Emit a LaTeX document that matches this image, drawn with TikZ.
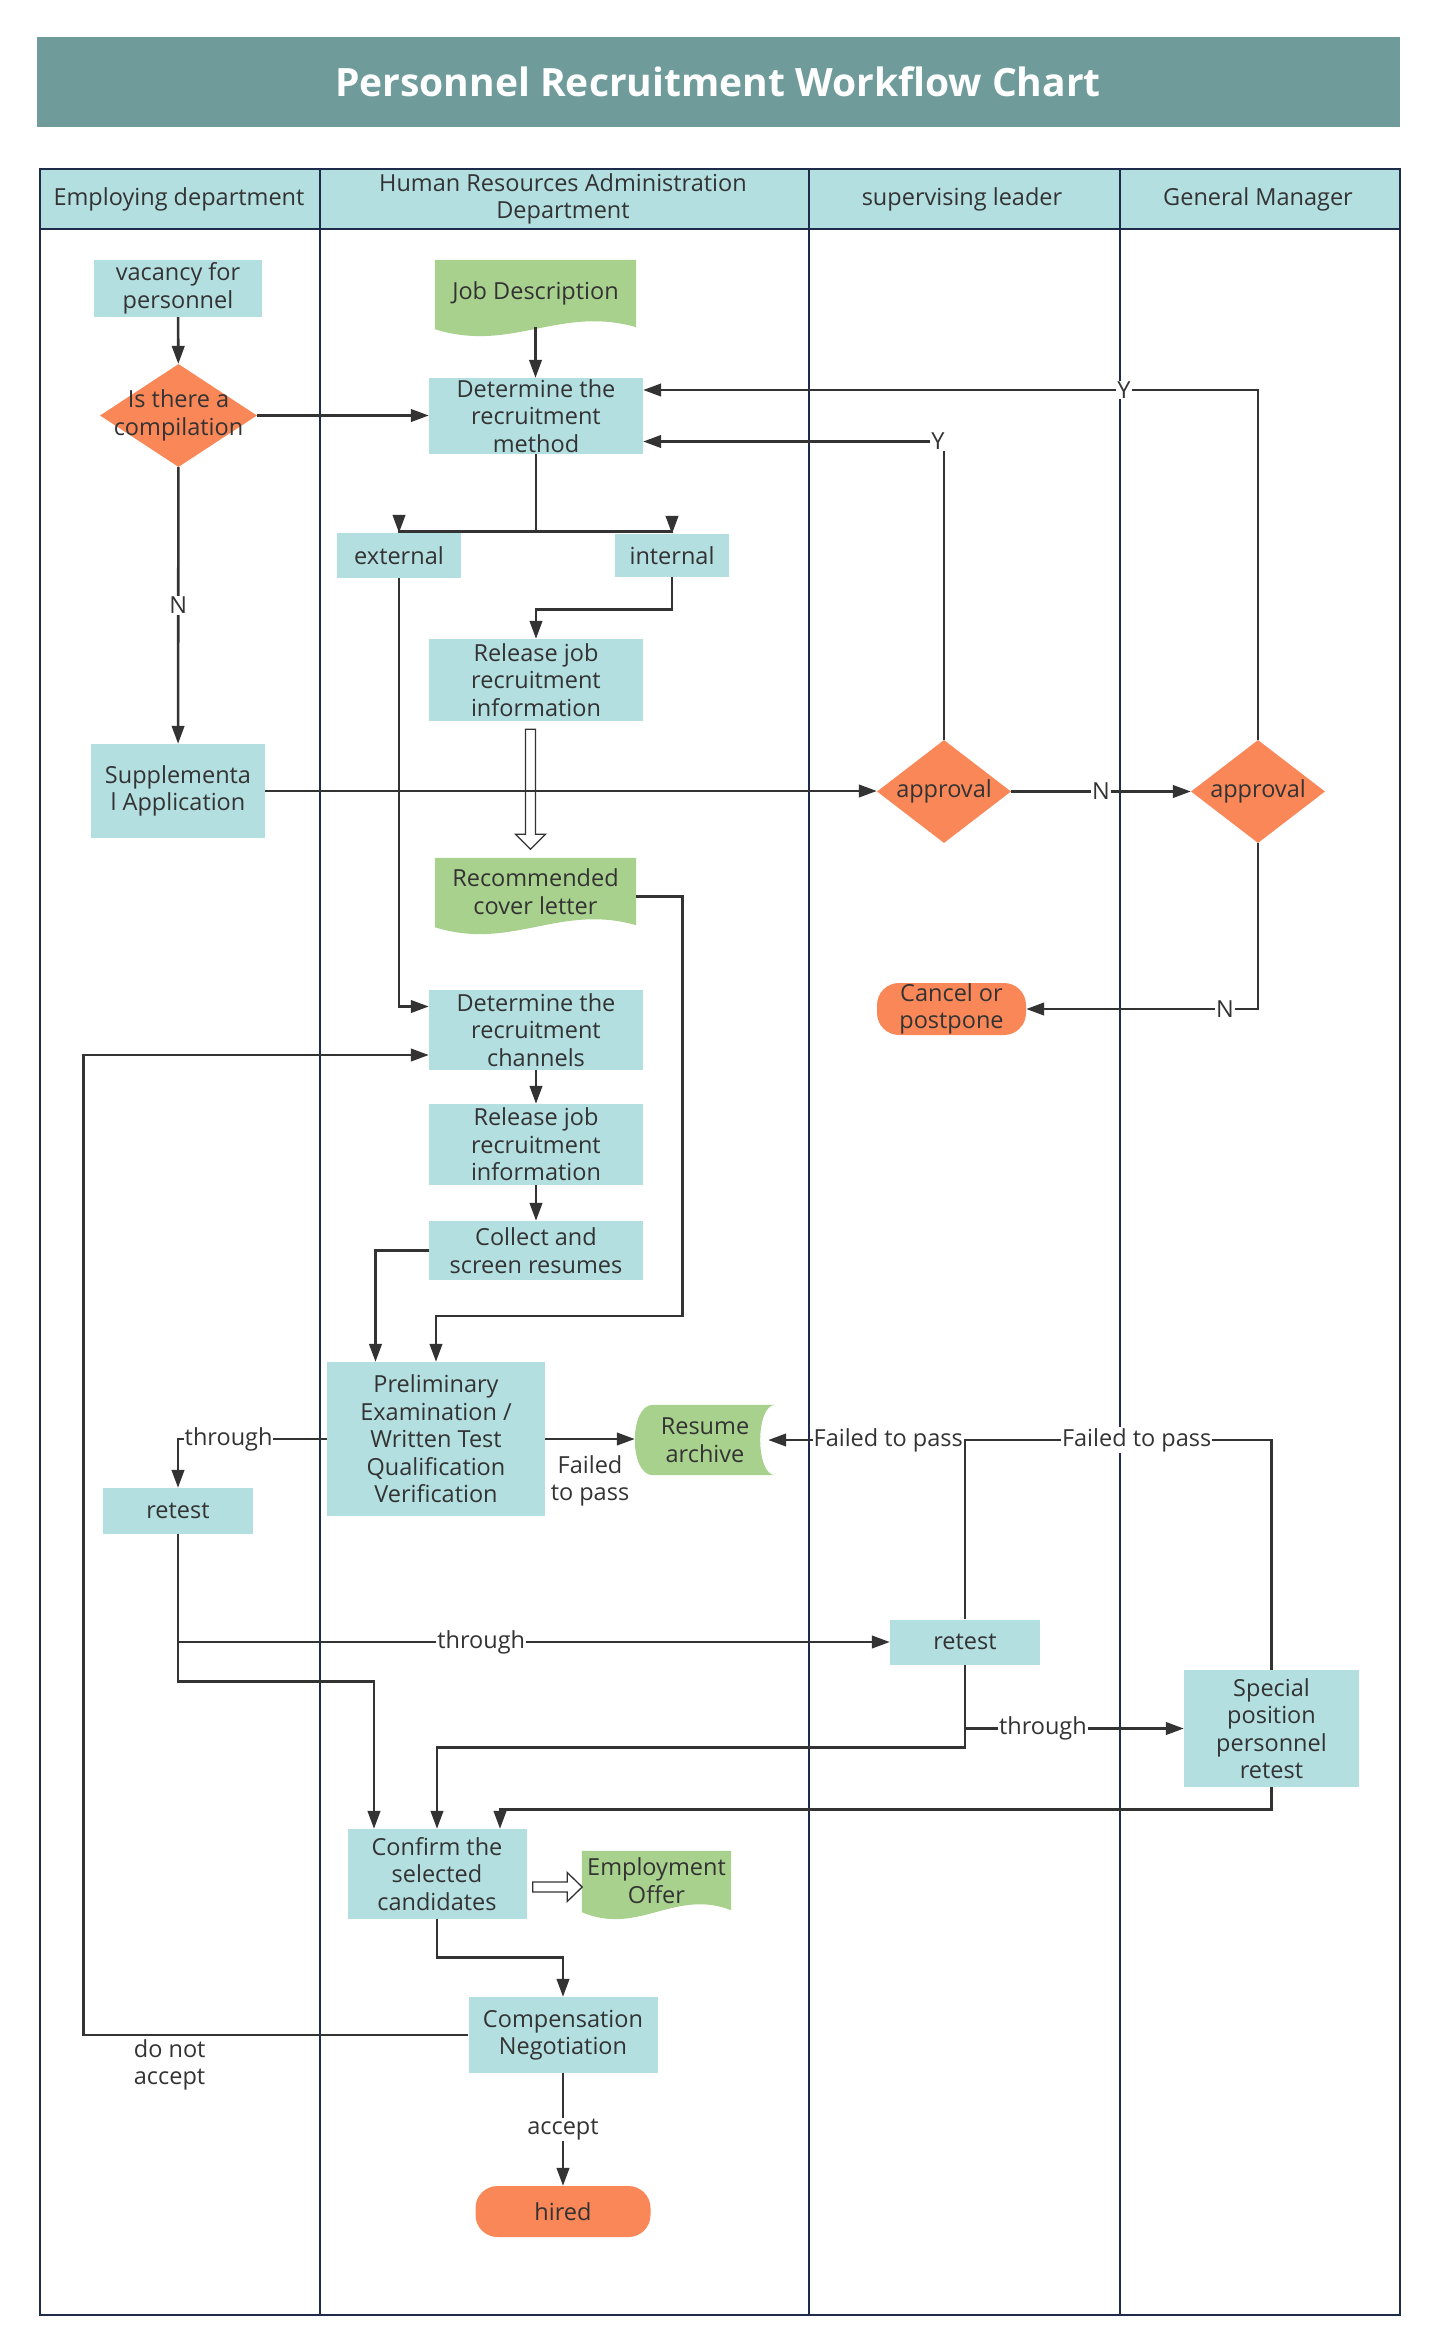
\documentclass[tikz,border=0pt]{standalone}
\usepackage{fontspec}
\setmainfont{Open Sans}
\usetikzlibrary{positioning, shapes.geometric, arrows.meta, calc, backgrounds}
\definecolor{ink}{HTML}{333333}
\definecolor{laneline}{HTML}{1E2B4A}
\definecolor{titlebar}{HTML}{6F9C9B}
\definecolor{cyanbox}{HTML}{B4DFE0}
\definecolor{orangebox}{HTML}{F98758}
\definecolor{greendoc}{HTML}{A9D18E}

% document shape: flat top, wavy bottom
\newcommand{\docwave}[1]{%
  \fill[greendoc] (#1.north west) -- (#1.north east) -- (#1.south east)
    .. controls ($(#1.south west)!0.62!(#1.south east)+(0,-22)$)
            and ($(#1.south west)!0.38!(#1.south east)+(0,26)$)
    .. ($(#1.south west)+(0,2)$) -- cycle;}
% stored data shape
\newcommand{\storedfill}[1]{%
  \fill[greendoc] ([xshift=18pt]#1.north west) -- (#1.north east)
    .. controls ([xshift=-20pt]#1.north east) and ([xshift=-20pt]#1.south east) .. (#1.south east)
    -- ([xshift=18pt]#1.south west)
    .. controls ([xshift=-6pt]#1.south west) and ([xshift=-6pt]#1.north west) .. ([xshift=18pt]#1.north west) -- cycle;}

\begin{document}
\begin{tikzpicture}[x=1pt, y=-1pt, font=\fontsize{23.5}{27.5}\selectfont, text=ink,
  box/.style={rectangle, fill=cyanbox, align=center, inner xsep=3pt, inner ysep=0pt},
  decision/.style={diamond, fill=orangebox, inner sep=0pt, minimum width=134pt, minimum height=103pt},
  terminal/.style={rectangle, rounded corners=22pt, fill=orangebox, align=center, inner ysep=0pt},
  docnode/.style={rectangle, align=center, inner ysep=0pt, minimum width=201pt},
  lbl/.style={fill=white, inner sep=1pt},
  arr/.style={line width=2.6pt, draw=ink, -{Triangle[length=18pt, width=12.5pt]}},
  conn/.style={line width=2.6pt, draw=ink},
  hollow/.style={draw=ink, line width=1.3pt, fill=white}
]
  \useasboundingbox (0,0) rectangle (1435,2350);

  % title and lanes
  \fill[titlebar] (37,37) rectangle (1400,127);
  \node[font=\fontsize{39}{44}\selectfont\bfseries, text=white] (title) at (718,82) {Personnel Recruitment Workflow Chart};
  \fill[cyanbox] (40,169) rectangle (1400,229);
  \draw[laneline, line width=1.2pt] (40,169) rectangle (1400,2315);
  \draw[laneline, line width=2pt] (40,169) -- (1400,169) (40,229) -- (1400,229);
  \foreach \x/\w in {320/2.4, 809/1.2, 1120/1.2}
    \draw[laneline, line width=\w pt] (\x,169) -- (\x,2315);
  \node (hemp) at (179,199) {Employing department};
  \node[align=center] (hhr) at (563,199) {Human Resources Administration\\Department};
  \node (hsup) at (962,199) {supervising leader};
  \node (hgm) at (1258,199) {General Manager};

  % employing department
  \node[box, minimum width=168pt, minimum height=57pt] (vac) at (178,288.5) {vacancy for\\personnel};
  \node[decision, minimum width=157pt, label={[align=center]center:Is there a\\compilation}] (cmp) at (178.5,415.5) {};
  \node[box, minimum width=174pt, minimum height=94pt] (supp) at (178,791) {Supplementa\\l Application};
  \node[box, minimum width=150pt, minimum height=46pt] (rt1) at (178,1511) {retest};

  % HR administration
  \node[docnode, minimum height=67pt] (jd) at (535.5,293.5) {Job Description};
  \node[box, minimum width=214pt, minimum height=76pt] (meth) at (536,416) {Determine the\\recruitment\\method};
  \node[box, minimum width=124pt, minimum height=45pt] (ext) at (399,555.5) {external};
  \node[box, minimum width=114pt, minimum height=43pt] (int) at (672,555.5) {internal};
  \node[box, minimum width=214pt, minimum height=82pt] (rel1) at (536,680) {Release job\\recruitment\\information};
  \node[docnode, minimum height=67pt] (cover) at (535.5,891.5) {Recommended\\cover letter};
  \node[box, minimum width=214pt, minimum height=80pt] (chan) at (536,1030) {Determine the\\recruitment\\channels};
  \node[box, minimum width=214pt, minimum height=81pt] (rel2) at (536,1144.5) {Release job\\recruitment\\information};
  \node[box, minimum width=214pt, minimum height=59pt] (coll) at (536,1250.5) {Collect and\\screen resumes};
  \node[box, minimum width=218pt, minimum height=154pt] (prelim) at (436,1439) {Preliminary\\Examination /\\Written Test\\Qualification\\Verification};
  \node[rectangle, align=center, inner sep=0pt, minimum width=140pt, minimum height=70pt] (resume) at (705,1440) {Resume\\archive};
  \node[box, minimum width=179pt, minimum height=90pt] (confirm) at (437,1874) {Confirm the\\selected\\candidates};
  \node[docnode, minimum width=149pt, minimum height=59pt] (offer) at (656.5,1880.5) {Employment\\Offer};
  \node[box, minimum width=189pt, minimum height=76pt] (nego) at (563,2035) {Compensation\\Negotiation};
  \node[terminal, minimum width=175pt, minimum height=51pt] (hired) at (563,2211.5) {hired};

  % supervising leader
  \node[decision, label=center:approval] (appr1) at (944,791.5) {};
  \node[terminal, minimum width=149pt, minimum height=52pt] (cancel) at (951.5,1009) {Cancel or\\postpone};
  \node[box, minimum width=150pt, minimum height=45pt] (rt2) at (965,1642) {retest};

  % general manager
  \node[decision, label=center:approval] (appr2) at (1258,791.5) {};
  \node[box, minimum width=175pt, minimum height=117pt] (special) at (1271.5,1728.5) {Special\\position\\personnel\\retest};

  \begin{scope}[on background layer]
    \docwave{jd}
    \docwave{cover}
    \docwave{offer}
    \storedfill{resume}
  \end{scope}

  % connectors
  \draw[arr] (vac) -- (cmp);
  \draw[arr] (cmp.east) -- (cmp.east -| meth.west);
  \draw[arr] (cmp) -- node[lbl]{N} (supp);
  \draw[arr] (jd.south) -- (jd.south |- meth.north);
  \draw[arr] (meth.south) -- ++(0,77) -| (ext.north);
  \draw[arr] (meth.south) -- ++(0,77) -| (int.north);
  \draw[arr] (int.south) -- ++(0,32) -| (rel1.north);
  \draw[hollow, shift={($(rel1.south)+(-5.5,0)$)}] (-5,8) -- (5,8) -- (5,113) -- (15,113) -- (0,128) -- (-15,113) -- (-5,113) -- cycle;
  \draw[arr] (ext.south) |- ([yshift=23.5pt]chan.west);
  \draw[arr] ([yshift=-5pt]cover.east) -- ++(46,0) |- ($(prelim.north)+(0,-46)$) -- (prelim.north);
  \draw[arr] (chan) -- (rel2);
  \draw[arr] (rel2) -- (coll);
  \draw[arr] (coll.west) -| ([xshift=-60.5pt]prelim.north);
  \draw[arr] (prelim.east) -- node[below=14pt, inner sep=1pt, align=center]{Failed\\to pass} (prelim.east -| resume.west);
  \draw[arr] (prelim.west) -| node[lbl, pos=0.33]{through} (rt1.north);
  \draw[arr] (rt1.south) |- node[lbl, pos=0.713]{through} (rt2.west);
  \draw[arr] (rt1.south) -- ++(0,147) -| ([xshift=-63pt]confirm.north);
  \coordinate (failjoin) at (rt2.north |- resume.east);
  \draw[arr] (rt2.north) -- (failjoin) -- node[lbl, pos=0.39]{Failed to pass} ([xshift=-7pt]resume.east);
  \draw[conn] (special.north) |- node[lbl, pos=0.72]{Failed to pass} (failjoin);
  \draw[arr] (rt2.south) -- ++(0,83) -| (confirm.north);
  \draw[arr] (rt2.south |- special.west) -- node[lbl, pos=0.356]{through} (special.west);
  \draw[arr] (special.south) -- ++(0,22.5) -| ([xshift=63pt]confirm.north);
  \draw[hollow, shift={($(confirm.east)+(0,13)$)}] (6,-5) -- (40.5,-5) -- (40.5,-14.5) -- (55.5,0) -- (40.5,14.5) -- (40.5,5) -- (6,5) -- cycle;
  \draw[arr] (confirm.south) -- ++(0,38) -| (nego.north);
  \draw[arr] (nego.west) -- node[pos=0.88, below right=3pt, inner sep=1pt, align=left]{do not\\accept} ++(-385,0) |- ([yshift=-25pt]chan.west);
  \draw[arr] (nego) -- node[lbl]{accept} (hired);
  \draw[arr] (supp.east) -- (supp.east -| appr1.west);
  \draw[arr] (appr1.north) |- node[lbl, pos=0.51]{Y} ([yshift=-25.5pt]meth.east);
  \draw[arr] (appr1.east) -- node[lbl]{N} (appr2.west);
  \draw[arr] (appr2.north) |- node[lbl, pos=0.609]{Y} ([yshift=26pt]meth.east);
  \draw[arr] (appr2.south) |- node[lbl, pos=0.571]{N} (cancel.east);
\end{tikzpicture}
\end{document}
